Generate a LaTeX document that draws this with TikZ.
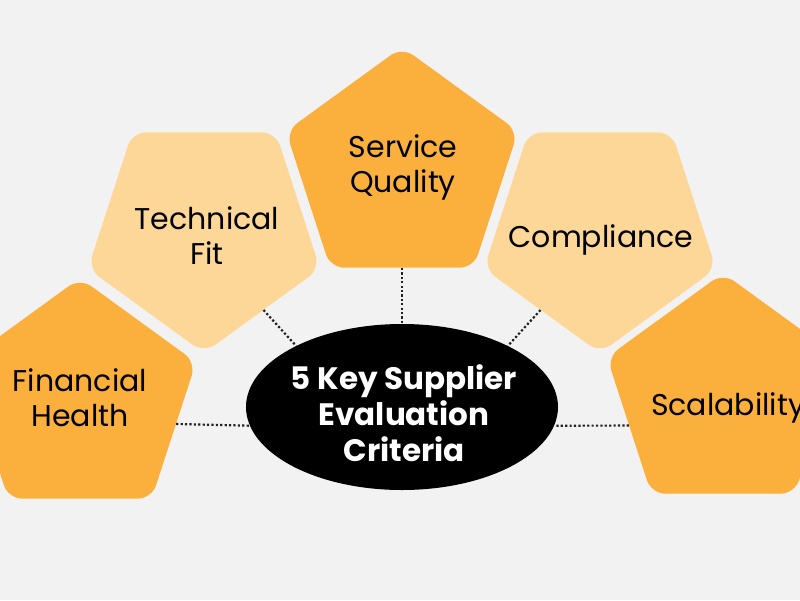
\documentclass[tikz,border=0pt]{standalone}
\usepackage{fontspec}
\setmainfont{Poppins}
\usetikzlibrary{shapes.geometric}
\definecolor{bgcol}{HTML}{F2F2F2}
\definecolor{darkor}{HTML}{FBB03D}
\definecolor{lightor}{HTML}{FDD797}
\definecolor{dotcol}{HTML}{222222}
\begin{document}
\begin{tikzpicture}[x=1pt, y=-1pt,
  pent/.style = {regular polygon, regular polygon sides=5, minimum size=244pt, inner sep=0pt, rounded corners=14pt},
  dark/.style = {pent, fill=darkor},
  light/.style = {pent, fill=lightor, shape border rotate=180},
  lab/.style = {align=center, text=black, font=\fontsize{30}{35}\selectfont},
  dotline/.style = {dotcol, line width=2.2pt, dash pattern=on 2.2pt off 2.2pt}]
  \useasboundingbox (0,0) rectangle (800,600);
  \clip (0,0) rectangle (800,600);
  \fill[bgcol] (0,0) rectangle (800,600);

  \node[light] (tech) at (204,231) {};
  \node[dark] (serv) at (402,169) {};
  \node[light] (comp) at (600,231) {};
  \node[dark] (fin) at (80,400) {};
  \node[dark] (scal) at (723,395) {};
  \node[ellipse, fill=black, minimum width=312pt, minimum height=166pt, inner sep=0pt] (crit) at (402,407) {};

  \node[lab] (techtxt) at (207,236) {Technical\\Fit};
  \node[lab] (servtxt) at (403,167) {Service\\Quality};
  \node[lab] (comptxt) at (601,240) {Compliance};
  \node[lab] (fintxt) at (80,398) {Financial\\Health};
  \node[lab] (scaltxt) at (728,408) {Scalability};
  \node[lab, text=white, font=\bfseries\fontsize{31}{36}\selectfont] (crittxt) at (404,413) {5 Key Supplier\\Evaluation\\Criteria};

  \draw[dotline] (serv.-90) -- (crit.90);
  \draw[dotline] (tech.-53) -- (crit.150);
  \draw[dotline] (comp.233) -- (crit.30);
  \draw[dotline] (fin.-14) -- (crit.187);
  \draw[dotline] (scal.198) -- (crit.-7);
\end{tikzpicture}
\end{document}
